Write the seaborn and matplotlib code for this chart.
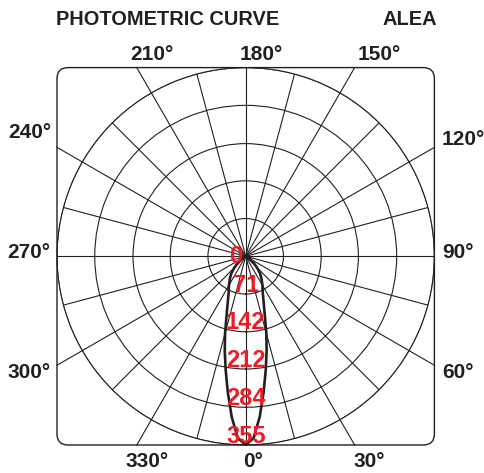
import numpy as np
import pandas as pd
import seaborn as sns
import matplotlib.pyplot as plt
from matplotlib.patches import FancyBboxPatch

plt.rcParams['font.family'] = ['Liberation Sans', 'DejaVu Sans']

#=============================data=============================#
# angle (deg, 0 = straight down, positive towards 90 on the right) and intensity (cd)
angles_deg = [-90, -80, -70, -60, -50, -45, -40, -35, -30, -25, -20, -15, -12.5, -10, -7.5, -5, -2.5,
              0, 2.5, 5, 7.5, 10, 12.5, 15, 20, 25, 30, 35, 40, 45, 50, 60, 70, 80, 90]
intensity = [0, 1, 4, 9, 20, 30, 42, 52, 63, 76, 101, 150, 182, 217, 258, 303, 342,
             355, 342, 303, 258, 217, 182, 150, 101, 76, 63, 52, 42, 30, 20, 9, 4, 1, 0]

ring_values = [71, 142, 212, 284, 355]
ring_labels = ['71', '142', '212', '284', '355']
angle_labels = ['210°', '180°', '150°', '240°', '120°', '270°', '90°', '300°', '60°', '330°', '0°', '30°']
# left x / baseline y of each angle label, pixels from top-left
angle_label_pos = [(130, 60), (240, 60), (358, 60), (8, 138), (442, 145), (7, 258), (442, 258),
                   (7, 378), (442, 378), (125, 467), (243, 467), (353, 467)]
title_left = 'PHOTOMETRIC CURVE'
title_right = 'ALEA'

ink = '#231f20'
red = '#ed1c24'
W, H = 484, 473
cx, cy, R = 245.7, 256.3, 188.7
rmax = ring_values[-1]

fig = plt.figure(figsize=(W / 100, H / 100), dpi=100)

# background axes in pixel coordinates for frame + texts
bg = fig.add_axes([0, 0, 1, 1])
bg.set_xlim(0, W)
bg.set_ylim(H, 0)
bg.axis('off')
bg.add_patch(FancyBboxPatch((cx - R, cy - R), 2 * R, 2 * R,
                            boxstyle='round,pad=0,rounding_size=11',
                            fc='none', ec=ink, lw=1.0))

ax = fig.add_axes([(cx - R) / W, (H - cy - R) / H, 2 * R / W, 2 * R / H], projection='polar')
ax.set_theta_zero_location('S')
ax.set_theta_direction(1)
ax.set_ylim(0, rmax)
ax.patch.set_alpha(0)
ax.set_rgrids(ring_values)
ax.set_thetagrids(np.arange(0, 360, 15))
ax.set_xticklabels([])
ax.set_yticklabels([])
ax.tick_params(length=0)
ax.grid(True, color=ink, lw=0.8, alpha=1)
ax.spines['polar'].set_color(ink)
ax.spines['polar'].set_linewidth(0.8)

# the 30 deg spokes continue out to the square frame
for a in range(30, 360, 30):
    if a % 90 == 0:
        continue
    th = np.deg2rad(a)
    r_end = rmax / max(abs(np.cos(th)), abs(np.sin(th)))
    ax.plot([th, th], [rmax, r_end], color=ink, lw=0.8, clip_on=False)

df = pd.DataFrame({'theta': np.deg2rad(angles_deg), 'cd': intensity})
sns.lineplot(data=df, x='theta', y='cd', ax=ax, color=ink, lw=1.9, sort=False, estimator=None, zorder=4)
ax.set_xlabel('')
ax.set_ylabel('')
ax.set_ylim(0, rmax)

lab_kw = dict(color=red, fontsize=17, fontweight='bold', ha='center', va='baseline',
              textcoords='offset pixels', annotation_clip=False, zorder=6)
ax.annotate('0', xy=(0, 0), xytext=(-10, -6.7), **lab_kw)
for v, lbl in zip(ring_values, ring_labels):
    ax.annotate(lbl, xy=(0, v), xytext=(0, 2.3), **lab_kw)

for lbl, (x, y) in zip(angle_labels, angle_label_pos):
    bg.text(x, y, lbl, color=ink, fontsize=15, fontweight='bold', ha='left', va='baseline')

bg.text(56, 25.3, title_left, color=ink, fontsize=14.4, fontweight='bold', ha='left', va='baseline')
bg.text(437, 25.3, title_right, color=ink, fontsize=14.4, fontweight='bold', ha='right', va='baseline')

fig.savefig('out.png', dpi=100)
